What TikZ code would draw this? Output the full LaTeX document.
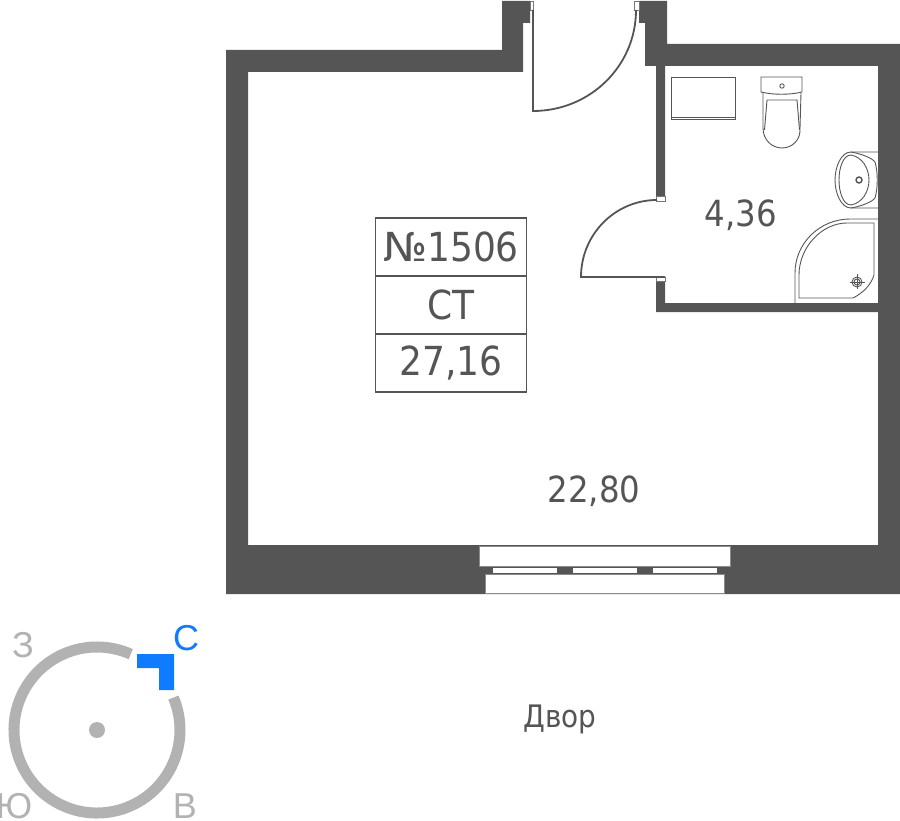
\documentclass[tikz,border=0pt]{standalone}
\usepackage{fontspec}
\setmainfont{DejaVu Sans Condensed}
\newfontfamily\compassfont{Liberation Sans}
\usetikzlibrary{positioning}
\definecolor{wallgray}{HTML}{555555}
\definecolor{ringgray}{HTML}{B2B2B2}
\definecolor{northblue}{HTML}{0F7BFF}
\tikzset{
  wall/.style={fill=wallgray,draw=none},
  fixture/.style={draw=wallgray,line width=.9pt,fill=white},
  thinline/.style={draw=wallgray,line width=.9pt},
  leaf/.style={draw=wallgray,line width=1.8pt},
  jamb/.style={draw=wallgray!80,line width=.8pt,fill=white},
  pane/.style={draw=black!45,line width=1pt,fill=white},
  infocell/.style={draw=wallgray,line width=1.8pt,outer sep=0pt,minimum width=151pt,minimum height=58pt,inner sep=0pt,text=wallgray,font=\fontsize{40}{40}\selectfont},
  area/.style={text=wallgray,font=\fontsize{36}{36}\selectfont},
  compass/.style={text=ringgray,inner sep=0pt,font=\compassfont\fontsize{36}{36}\selectfont}
}
\begin{document}
\begin{tikzpicture}[x=1pt,y=-1pt]
\useasboundingbox (0,0) rectangle (900,821);
% walls
\fill[wall] (226,50) -- (502,50) -- (502,1) -- (530,1) -- (530,23) -- (523,23) -- (523,72)
  -- (248,72) -- (248,545) -- (878,545) -- (878,312) -- (656,312) -- (656,277) -- (665,277)
  -- (665,303) -- (878,303) -- (878,66) -- (665,66) -- (665,196) -- (656,196) -- (656,66)
  -- (645,66) -- (645,23) -- (639,23) -- (639,1) -- (667,1) -- (667,44) -- (900,44)
  -- (900,594) -- (226,594) -- cycle;
%
% entrance door
\draw[jamb] (530.5,1) rectangle (533.5,10);
\draw[jamb] (634.5,1) rectangle (639,10);
\draw[leaf] (533,10) -- (533,111) .. controls (590,111) and (636,66) .. (636,10);
%
% bathroom door
\draw[jamb] (656.5,196) rectangle (665,201);
\draw[jamb] (656.5,277) rectangle (665,281);
\draw[leaf] (665,277) -- (581,277) .. controls (581,234.5) and (615,200) .. (657,200);
%
% window
\draw[pane] (479,546) rectangle (730,566);
\foreach \x in {493,573,653}
  \fill[white] (\x,567.5) rectangle +(63.5,5);
\draw[pane] (485.5,574) rectangle (724,593);
%
% bath shelf
\draw[fixture] (671,77) rectangle (735,119);
\draw[thinline] (671,117) -- (735,117);
%
% toilet
\draw[fixture] (763,93) -- (763,128) .. controls (763,140) and (772,148) .. (782,148)
  .. controls (792,148) and (801,140) .. (800,128) -- (801,93);
\draw[thinline] (767,100) -- (764.5,130);
\draw[thinline] (767,100) -- (797,100) -- (799.5,130);
\draw[fixture] (761,77) -- (802,77) -- (802,92) .. controls (790,95) and (773,95) .. (761,92) -- cycle;
\draw[thinline] (782,86) circle (2.2);
%
% sink
\draw[thinline] (878,152) -- (851,152) .. controls (841,152) and (835,167) .. (835,180)
  .. controls (835,193) and (841,208) .. (851,208) -- (878,208);
\draw[thinline] (851,152) .. controls (862,154) and (872,158) .. (875,162)
  .. controls (878,172) and (878,188) .. (875,198) .. controls (872,202) and (862,206) .. (851,208);
\draw[thinline] (851,155) .. controls (843,155) and (839,168) .. (839,180)
  .. controls (839,192) and (843,205) .. (851,205) .. controls (862,203) and (869,192) .. (869,180)
  .. controls (869,168) and (862,157) .. (851,155);
\draw[draw=wallgray,line width=1.4pt] (859,180) circle (3);
%
% shower
\draw[thinline] (795,303) -- (795,273) .. controls (795,243) and (820,219) .. (850,219) -- (878,219);
\draw[thinline] (799,298) -- (799,275) .. controls (799,247) and (822,223) .. (847,223) -- (874,223)
  -- (874,275) .. controls (871,285) and (863,293) .. (853,298) -- cycle;
\draw[thinline] (857,282) circle (5);
\draw[thinline] (857,282) circle (3);
\draw[thinline] (849.5,282) -- (864.5,282);
\draw[thinline] (857,274.5) -- (857,289.5);
%
% apartment label
\node[infocell] (number) at (451,247) {\scalebox{1.18}[1]{№}1506};
\node[infocell,below=0pt of number] (kind) {СТ};
\node[infocell,below=0pt of kind] (total) {27,16};
%
% room areas
\node[area] (bath) at (741,215) {4,36};
\node[area] (room) at (594,491) {22,80};
\node[text=wallgray,font=\fontsize{31}{31}\selectfont] (yard) at (560,719) {Двор};
%
% compass
\draw[ringgray,line width=11pt] (97,730) ++(-66:83) arc[start angle=-66,end angle=-383,radius=83];
\fill[ringgray] (97,730) circle (8);
\fill[northblue] (137,654) -- (174,654) -- (174,690) -- (159,690) -- (159,668) -- (137,668) -- cycle;
\node[compass,text=northblue] (north) at (186,638) {С};
\node[compass] (west) at (23,645) {З};
\node[compass] (south) at (14,806) {Ю};
\node[compass] (east) at (185,806) {В};
\end{tikzpicture}
\end{document}
